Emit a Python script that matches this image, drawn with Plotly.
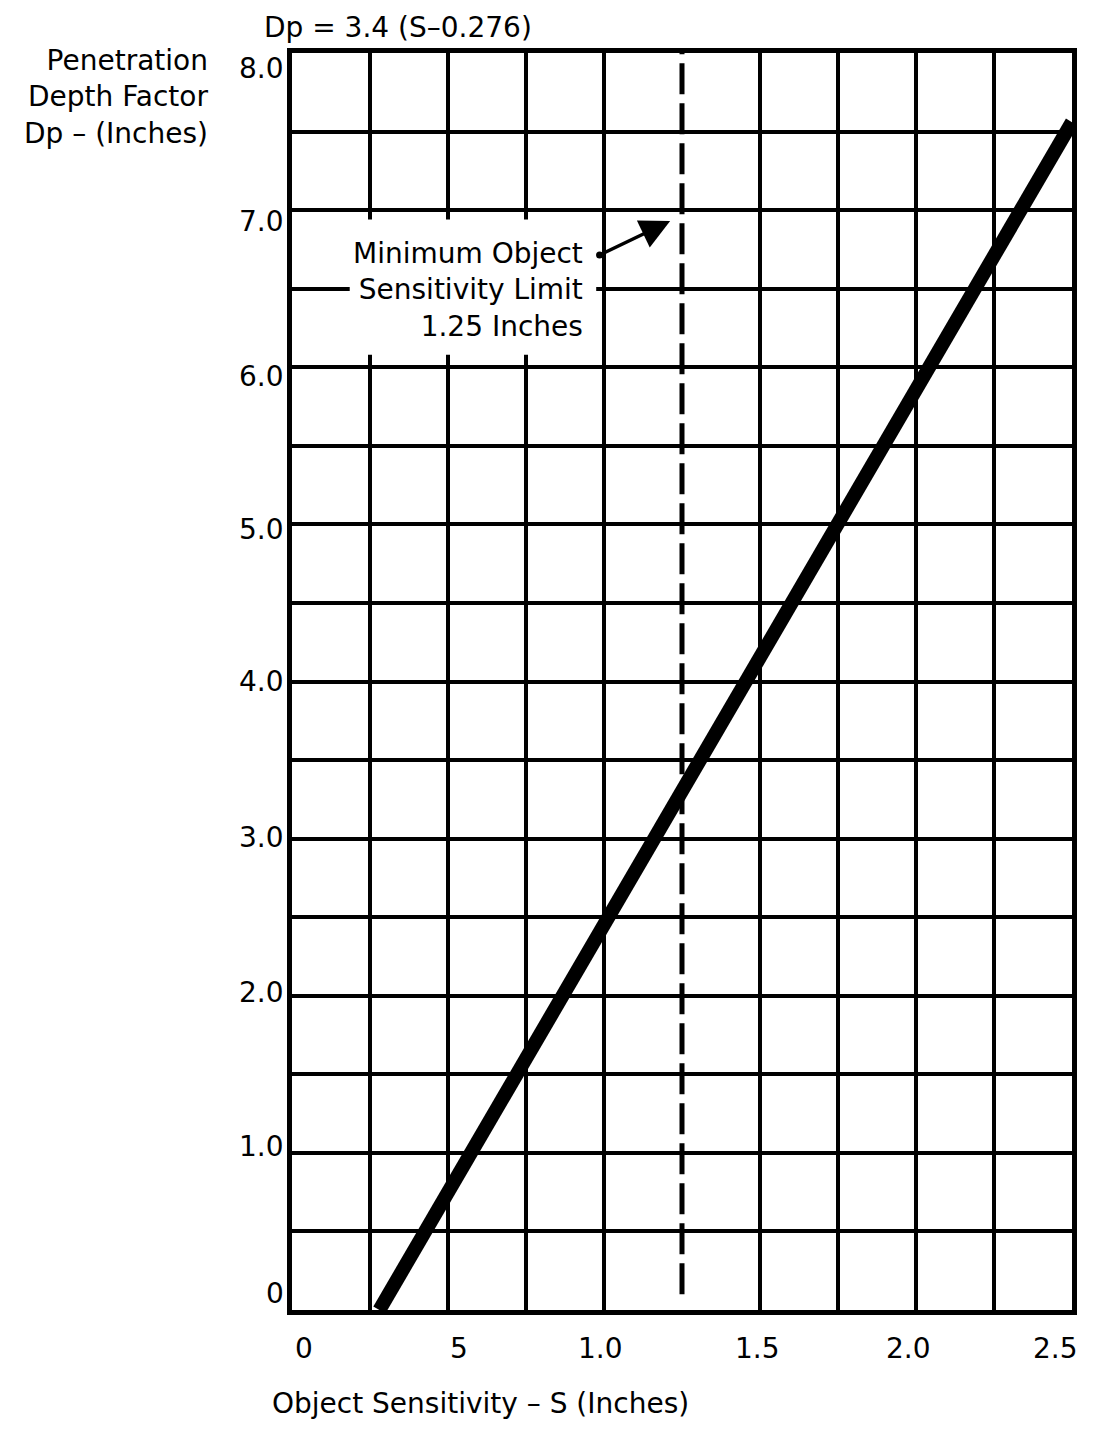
import plotly.graph_objects as go

# Data
line_s = [0.28, 2.5]          # Object sensitivity S (inches)
line_dp = [0.0, 7.56]         # Penetration depth factor Dp (inches)
limit_s = [1.25, 1.25]        # minimum object sensitivity limit
limit_dp = [0.1, 8.0]

x_tickvals = [0, 0.5, 1.0, 1.5, 2.0, 2.5]
x_ticktext = ["0", "5", "1.0", "1.5", "2.0", "2.5"]
x_minor = [0.25, 0.75, 1.75, 2.25]
y_tickvals = [0, 1, 2, 3, 4, 5, 6, 7, 8]
y_ticktext = ["0", "1.0", "2.0", "3.0", "4.0", "5.0", "6.0", "7.0", "8.0"]

# label placement tweaks (pixels), as in the printed original
x_label_shift = [12, 11, -4, -3, -8, -17]
y_label_shift = [17, 6, 3, 1, 0, -5, -9, -11, -15]

FONT = "DejaVu Sans"
FS = 28
BLACK = "black"

fig = go.Figure()
fig.add_trace(go.Scatter(x=limit_s, y=limit_dp, mode="lines",
                         line=dict(color=BLACK, width=5, dash="31px,9px"),
                         hoverinfo="skip", showlegend=False))
fig.add_trace(go.Scatter(x=line_s, y=line_dp, mode="lines",
                         line=dict(color=BLACK, width=14),
                         hoverinfo="skip", showlegend=False))

# white patch behind the annotation text (gridlines interrupted)
fig.add_shape(type="rect", xref="x", yref="y", x0=0.185, x1=0.975, y0=6.08, y1=6.94,
              fillcolor="white", line=dict(width=0), layer="between")

fig.add_annotation(x=0.94, y=6.49, xref="x", yref="y", xanchor="right", yanchor="middle",
                   align="right", showarrow=False,
                   text="Minimum Object<br>Sensitivity Limit<br>1.25 Inches",
                   font=dict(family=FONT, size=FS, color=BLACK))
fig.add_annotation(x=1.212, y=6.93, ax=0.981, ay=6.71, xref="x", yref="y", axref="x", ayref="y",
                   showarrow=True, arrowhead=2, arrowsize=1.7, arrowwidth=3.5,
                   arrowside="end+start", startarrowhead=6, startarrowsize=0.5,
                   arrowcolor=BLACK, text="")

# tick labels
for v, t, s in zip(x_tickvals, x_ticktext, x_label_shift):
    fig.add_annotation(x=v, y=0, xref="x", yref="paper", xanchor="center", yanchor="middle",
                       yshift=-38, xshift=s, showarrow=False, text=t,
                       font=dict(family=FONT, size=FS, color=BLACK))
for v, t, s in zip(y_tickvals, y_ticktext, y_label_shift):
    fig.add_annotation(x=0, y=v, xref="paper", yref="y", xanchor="right", yanchor="middle",
                       xshift=-6, yshift=s, showarrow=False, text=t,
                       font=dict(family=FONT, size=FS, color=BLACK))

fig.add_annotation(x=0.136, y=1.0199, xref="paper", yref="paper", xanchor="center",
                   yanchor="middle", showarrow=False, text="Dp = 3.4 (S–0.276)",
                   font=dict(family=FONT, size=FS, color=BLACK))
fig.add_annotation(x=-0.105, y=0.965, xref="paper", yref="paper", xanchor="right",
                   yanchor="middle", align="right", showarrow=False,
                   text="Penetration<br>Depth Factor<br>Dp – (Inches)",
                   font=dict(family=FONT, size=FS, color=BLACK))
fig.add_annotation(x=0.242, y=0, xref="paper", yref="paper", xanchor="center",
                   yanchor="middle", yshift=-93, showarrow=False,
                   text="Object Sensitivity – S (Inches)",
                   font=dict(family=FONT, size=FS, color=BLACK))

# page body has an 8px default margin: size the figure to sit on the same pixels
fig.update_layout(
    width=1080, height=1413,
    margin=dict(l=284, r=16, t=45, b=111),
    paper_bgcolor="white", plot_bgcolor="white",
    font=dict(family=FONT, size=FS, color=BLACK),
    xaxis=dict(range=[0, 2.5], tickmode="array", tickvals=x_tickvals,
               showticklabels=False,
               showgrid=True, gridcolor=BLACK, gridwidth=4, zeroline=False,
               showline=True, linecolor=BLACK, linewidth=5, mirror=True, ticks="",
               minor=dict(tickmode="array", tickvals=x_minor, showgrid=True,
                          gridcolor=BLACK, gridwidth=4, ticks="")),
    yaxis=dict(range=[0, 8], tickmode="array", tickvals=y_tickvals,
               showticklabels=False,
               showgrid=True, gridcolor=BLACK, gridwidth=4, zeroline=False,
               showline=True, linecolor=BLACK, linewidth=5, mirror=True, ticks="",
               minor=dict(dtick=0.5, tick0=0, showgrid=True,
                          gridcolor=BLACK, gridwidth=4, ticks="")),
)
fig.write_html("out.html")
